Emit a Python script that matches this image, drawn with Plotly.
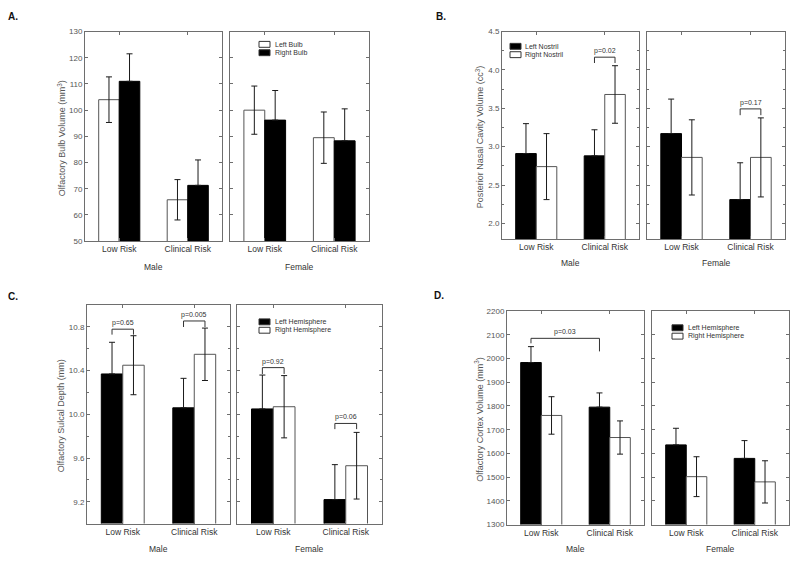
import plotly.graph_objects as go

FONT = "Arial, Liberation Sans, sans-serif"
W, H = 800, 567

CATEGORIES = ["Low Risk", "Clinical Risk"]
SEXES = ["Male", "Female"]

# ---------------- Panel A: Olfactory bulb volume ----------------
A_NAMES = ["Left Bulb", "Right Bulb"]
A_MALE_LEFT = [104.0, 65.8]
A_MALE_LEFT_ERR = [8.7, 7.7]
A_MALE_RIGHT = [111.0, 71.3]
A_MALE_RIGHT_ERR = [10.5, 9.7]
A_FEMALE_LEFT = [100.0, 89.5]
A_FEMALE_LEFT_ERR = [9.2, 9.8]
A_FEMALE_RIGHT = [96.2, 88.3]
A_FEMALE_RIGHT_ERR = [11.3, 12.2]

# ---------------- Panel B: Posterior nasal cavity volume ----------------
B_NAMES = ["Left Nostril", "Right Nostril"]
B_MALE_LEFT = [2.91, 2.88]
B_MALE_LEFT_ERR = [0.39, 0.34]
B_MALE_RIGHT = [2.74, 3.68]
B_MALE_RIGHT_ERR = [0.43, 0.375]
B_FEMALE_LEFT = [3.17, 2.31]
B_FEMALE_LEFT_ERR = [0.45, 0.48]
B_FEMALE_RIGHT = [2.86, 2.86]
B_FEMALE_RIGHT_ERR = [0.49, 0.515]

# ---------------- Panel C: Olfactory sulcal depth ----------------
C_NAMES = ["Left Hemisphere", "Right Hemisphere"]
C_MALE_LEFT = [10.37, 10.06]
C_MALE_LEFT_ERR = [0.29, 0.27]
C_MALE_RIGHT = [10.45, 10.55]
C_MALE_RIGHT_ERR = [0.27, 0.24]
C_FEMALE_LEFT = [10.05, 9.22]
C_FEMALE_LEFT_ERR = [0.31, 0.32]
C_FEMALE_RIGHT = [10.07, 9.53]
C_FEMALE_RIGHT_ERR = [0.285, 0.305]

# ---------------- Panel D: Olfactory cortex volume ----------------
D_NAMES = ["Left Hemisphere", "Right Hemisphere"]
D_MALE_LEFT = [1983, 1795]
D_MALE_LEFT_ERR = [67, 60]
D_MALE_RIGHT = [1760, 1667]
D_MALE_RIGHT_ERR = [79, 70]
D_FEMALE_LEFT = [1636, 1579]
D_FEMALE_LEFT_ERR = [70, 75]
D_FEMALE_RIGHT = [1502, 1480]
D_FEMALE_RIGHT_ERR = [84, 89]

# significance brackets: (sex index, x-from, x-to, bracket level, left leg end, right leg end, label)
B_BRACKETS = [(0, 0.85, 1.15, 4.166, 4.09, 4.09, "p=0.02"),
              (1, 0.85, 1.15, 3.492, 3.41, 3.41, "p=0.17")]
C_BRACKETS = [(0, -0.15, 0.15, 10.78, 10.73, 10.73, "p=0.65"),
              (0, 0.85, 1.15, 10.855, 10.80, 10.80, "p=0.005"),
              (1, -0.15, 0.15, 10.428, 10.37, 10.37, "p=0.92"),
              (1, 0.85, 1.15, 9.917, 9.865, 9.865, "p=0.06")]
D_BRACKETS = [(0, -0.15, 0.85, 2085, 2064, 2030, "p=0.03")]


def fx(px):
    return px / W


def fy(py):
    return 1 - py / H


fig = go.Figure()
layout = {}
shapes = []
annotations = []

BLACK = "#000000"
WHITE = "#ffffff"
OUTLINE = "#555555"
AXIS_C = "#6e6e6e"
TICK_C = "#555555"


def add_panel(n, male_x, female_x, ys, yrange, dtick, tick0, minor, tfmt, ytitle, ytitle_x,
              letter, letter_xy, names, fills, lines, male_data, female_data,
              brackets, legend_pos, legend_text_x, sex_label_y):
    axes = [n, n + 1]
    for k, (dom, data) in enumerate(zip([male_x, female_x], [male_data, female_data])):
        ax = axes[k]
        xname = "x" if ax == 1 else f"x{ax}"
        yname = "y" if ax == 1 else f"y{ax}"
        for s in range(2):
            vals, errs = data[s]
            # the lower whisker of a black bar is hidden inside the bar
            lower = [0 * e for e in errs] if fills[s] == BLACK else errs
            fig.add_trace(go.Bar(
                x=CATEGORIES, y=vals, name=names[s], showlegend=False,
                xaxis=xname, yaxis=yname, offsetgroup=str(s),
                marker=dict(color=fills[s], line=dict(color=lines[s], width=1)),
                error_y=dict(type="data", symmetric=False, array=errs, arrayminus=lower,
                             visible=True, color="#1a1a1a", thickness=1, width=3),
            ))
        xa = dict(domain=[fx(dom[0]), fx(dom[1])], anchor=yname,
                  range=[-0.5, 1.5], type="category",
                  showline=True, linecolor=AXIS_C, linewidth=1, mirror="allticks",
                  ticks="inside", ticklen=3, tickcolor=AXIS_C,
                  tickfont=dict(family=FONT, size=8.5, color="#333333"),
                  showgrid=False, zeroline=False, fixedrange=True)
        ya = dict(domain=[fy(ys[1]), fy(ys[0])], anchor=xname,
                  range=yrange, dtick=dtick, tick0=tick0, tickformat=tfmt,
                  showline=True, linecolor=AXIS_C, linewidth=1, mirror="allticks",
                  ticks="inside", ticklen=3, tickcolor=AXIS_C,
                  tickfont=dict(family=FONT, size=8, color=TICK_C),
                  showticklabels=(k == 0),
                  showgrid=False, zeroline=False, fixedrange=True)
        if minor:
            ya["minor"] = dict(ticks="inside", ticklen=2, tickcolor=AXIS_C, dtick=minor,
                               showgrid=False)
        layout["xaxis" if ax == 1 else f"xaxis{ax}"] = xa
        layout["yaxis" if ax == 1 else f"yaxis{ax}"] = ya
        annotations.append(dict(text=SEXES[k], x=fx((dom[0] + dom[1]) / 2), y=fy(sex_label_y),
                                xref="paper", yref="paper", showarrow=False,
                                font=dict(family=FONT, size=8.5, color="#333333"),
                                xanchor="center", yanchor="middle"))
    annotations.append(dict(text=ytitle, x=fx(ytitle_x), y=fy((ys[0] + ys[1]) / 2 + 2),
                            xref="paper", yref="paper", showarrow=False, textangle=-90,
                            font=dict(family=FONT, size=9, color="#555555"),
                            xanchor="center", yanchor="middle"))
    annotations.append(dict(text=f"<b>{letter}</b>", x=fx(letter_xy[0]), y=fy(letter_xy[1]),
                            xref="paper", yref="paper", showarrow=False,
                            font=dict(family=FONT, size=10, color="#111111"),
                            xanchor="left", yanchor="middle"))
    for (sx, x0, x1, lvl, l0, l1, lab) in brackets:
        ax = axes[sx]
        xr = "x" if ax == 1 else f"x{ax}"
        yr = "y" if ax == 1 else f"y{ax}"
        lc = dict(color="#333333", width=1)
        shapes.append(dict(type="line", xref=xr, yref=yr, x0=x0, x1=x1, y0=lvl, y1=lvl, line=lc))
        shapes.append(dict(type="line", xref=xr, yref=yr, x0=x0, x1=x0, y0=lvl, y1=l0, line=lc))
        shapes.append(dict(type="line", xref=xr, yref=yr, x0=x1, x1=x1, y0=lvl, y1=l1, line=lc))
        annotations.append(dict(text=lab, x=(x0 + x1) / 2, y=lvl, xref=xr, yref=yr,
                                showarrow=False, yanchor="bottom", yshift=0,
                                font=dict(family=FONT, size=7, color="#333333")))
    for s in range(2):
        bx, by = legend_pos[0], legend_pos[1] + s * 8.5
        shapes.append(dict(type="rect", xref="paper", yref="paper",
                           x0=fx(bx), x1=fx(bx + 11), y0=fy(by + 6), y1=fy(by),
                           fillcolor=fills[s], line=dict(color="#333333", width=1)))
        annotations.append(dict(text=names[s], x=fx(legend_text_x), y=fy(by + 3),
                                xref="paper", yref="paper", showarrow=False,
                                xanchor="left", yanchor="middle",
                                font=dict(family=FONT, size=7, color="#333333")))


add_panel(1, (85, 222), (230, 369), (28, 241), [50, 130], 10, 50, None, "d",
          "Olfactory Bulb Volume (mm<sup>3</sup>)", 62, "A.", (6, 13),
          A_NAMES, [WHITE, BLACK], [OUTLINE, BLACK],
          [(A_MALE_LEFT, A_MALE_LEFT_ERR), (A_MALE_RIGHT, A_MALE_RIGHT_ERR)],
          [(A_FEMALE_LEFT, A_FEMALE_LEFT_ERR), (A_FEMALE_RIGHT, A_FEMALE_RIGHT_ERR)],
          [], (259, 38), 273, 267)

add_panel(3, (502, 639), (647, 785), (28, 239), [1.794, 4.5], 0.5, 2.0, 0.25, ".1f",
          "Posterior Nasal Cavity Volume (cc<sup>3</sup>)", 480, "B.", (434, 13),
          B_NAMES, [BLACK, WHITE], [BLACK, OUTLINE],
          [(B_MALE_LEFT, B_MALE_LEFT_ERR), (B_MALE_RIGHT, B_MALE_RIGHT_ERR)],
          [(B_FEMALE_LEFT, B_FEMALE_LEFT_ERR), (B_FEMALE_RIGHT, B_FEMALE_RIGHT_ERR)],
          B_BRACKETS, (510, 40), 523, 263)

add_panel(5, (87, 230), (237, 382), (306, 528), [9.0, 11.0], 0.4, 9.2, 0.2, ".1f",
          "Olfactory Sulcal Depth (mm)", 61, "C.", (6, 297),
          C_NAMES, [BLACK, WHITE], [BLACK, OUTLINE],
          [(C_MALE_LEFT, C_MALE_LEFT_ERR), (C_MALE_RIGHT, C_MALE_RIGHT_ERR)],
          [(C_FEMALE_LEFT, C_FEMALE_LEFT_ERR), (C_FEMALE_RIGHT, C_FEMALE_RIGHT_ERR)],
          C_BRACKETS, (259, 320), 273, 554)

add_panel(7, (507, 644), (652, 789), (312, 529), [1300, 2200], 100, 1300, None, "d",
          "Olfactory Cortex Volume (mm<sup>3</sup>)", 479, "D.", (432, 296),
          D_NAMES, [BLACK, WHITE], [BLACK, OUTLINE],
          [(D_MALE_LEFT, D_MALE_LEFT_ERR), (D_MALE_RIGHT, D_MALE_RIGHT_ERR)],
          [(D_FEMALE_LEFT, D_FEMALE_LEFT_ERR), (D_FEMALE_RIGHT, D_FEMALE_RIGHT_ERR)],
          D_BRACKETS, (672, 326), 686, 554)

fig.update_layout(**layout)
fig.update_layout(
    width=W, height=H, autosize=False,
    margin=dict(l=0, r=0, t=0, b=0),
    paper_bgcolor="white", plot_bgcolor="white",
    barmode="group", bargap=0.4, bargroupgap=0,
    showlegend=False,
    shapes=shapes, annotations=annotations,
    font=dict(family=FONT, size=8, color="#333333"),
)

fig.write_html("out.html", config={"displayModeBar": False},
               post_script="document.body.style.margin='0';document.body.style.overflow='hidden';")
